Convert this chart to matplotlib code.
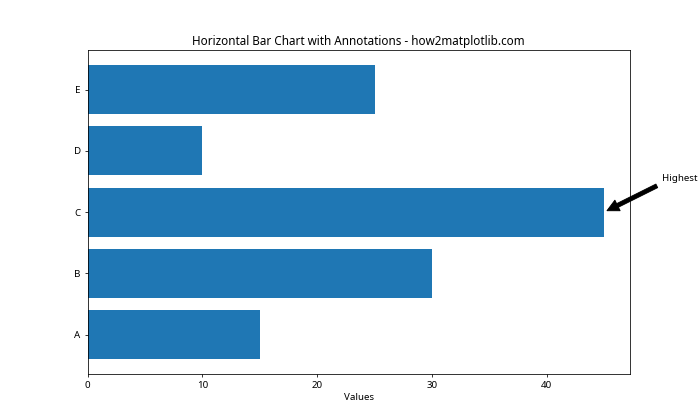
import matplotlib
matplotlib.use('Agg')
import matplotlib.pyplot as plt

plt.rcParams['font.family'] = ['Noto Sans', 'DejaVu Sans']

## 数据
categories = ['A', 'B', 'C', 'D', 'E']
values = [15, 30, 45, 10, 25]

fig, ax = plt.subplots(figsize=(10, 6), dpi=70)
ax.barh(categories, values)

# 标注最大值
i_max = values.index(max(values))
ax.annotate('Highest', xy=(values[i_max], i_max), xytext=(values[i_max] + 5, i_max + 0.5),
            arrowprops=dict(facecolor='black', shrink=0.05))

ax.set_title('Horizontal Bar Chart with Annotations - how2matplotlib.com')
ax.set_xlabel('Values')

plt.savefig('out.png')
